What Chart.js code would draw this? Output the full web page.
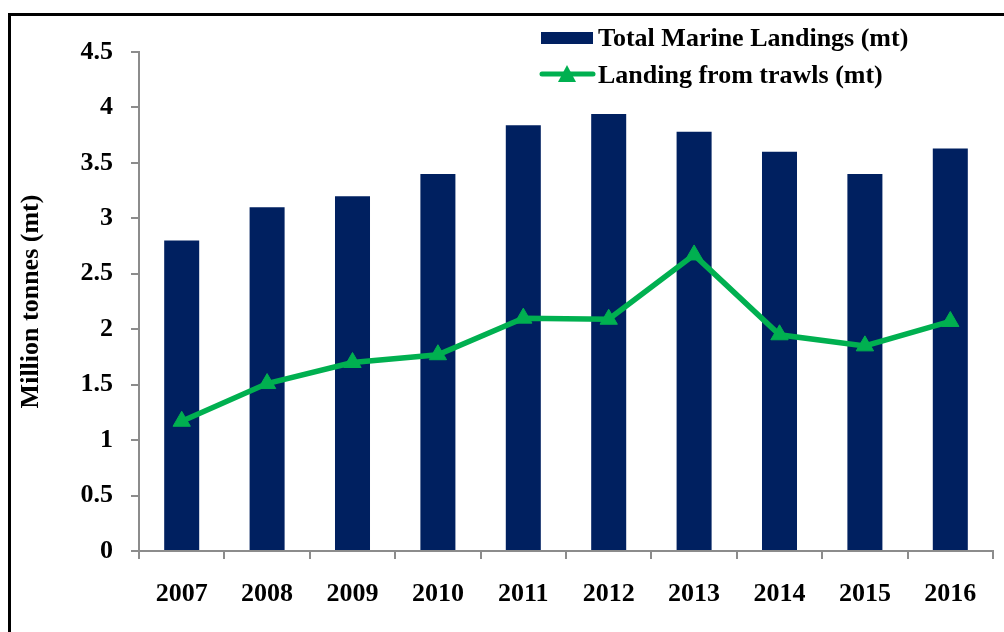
<!DOCTYPE html>
<html>
<head>
<meta charset="utf-8">
<script src="https://cdn.jsdelivr.net/npm/chart.js@4"></script>
<style>
  html, body { margin: 0; padding: 0; background: #fff; overflow: hidden; }
  #wrap { width: 1004px; height: 632px; position: relative; }
</style>
</head>
<body>
<div id="wrap"><canvas id="chart" width="1004" height="632"></canvas></div>
<script>
const years = ['2007', '2008', '2009', '2010', '2011', '2012', '2013', '2014', '2015', '2016'];
const totalLandings = [2.80, 3.10, 3.20, 3.40, 3.84, 3.94, 3.78, 3.60, 3.40, 3.63];
const trawlLandings = [1.17, 1.51, 1.70, 1.77, 2.10, 2.09, 2.67, 1.95, 1.85, 2.07];

const navy = '#002060';
const green = '#00B050';
const fontFamily = '"Liberation Serif", "Times New Roman", serif';

// outer frame + custom legend
const framePlugin = {
    id: 'frame',
    beforeDraw(chart) {
        const ctx = chart.ctx;
        ctx.save();
        ctx.fillStyle = '#fff';
        ctx.fillRect(0, 0, chart.width, chart.height);
        ctx.strokeStyle = '#000';
        ctx.lineWidth = 3;
        ctx.strokeRect(9.5, 14.5, chart.width + 20, chart.height + 20);
        ctx.restore();
    },
    afterDraw(chart) {
        const ctx = chart.ctx;
        const bars = chart.data.datasets.find(d => d.type === 'bar');
        const line = chart.data.datasets.find(d => d.type === 'line');
        ctx.save();
        ctx.font = 'bold 26px ' + fontFamily;
        ctx.textBaseline = 'middle';
        // bar entry
        ctx.fillStyle = navy;
        ctx.fillRect(541, 32, 52, 12);
        ctx.fillStyle = '#000';
        ctx.fillText(bars.label, 598, 39);
        // line entry
        ctx.strokeStyle = green;
        ctx.lineWidth = 5;
        ctx.lineCap = 'round';
        ctx.beginPath();
        ctx.moveTo(542, 74);
        ctx.lineTo(593, 74);
        ctx.stroke();
        ctx.fillStyle = green;
        ctx.beginPath();
        ctx.moveTo(567, 65);
        ctx.lineTo(576, 82);
        ctx.lineTo(558, 82);
        ctx.closePath();
        ctx.fill();
        ctx.fillStyle = '#000';
        ctx.fillText(line.label, 598, 76);
        ctx.restore();
    }
};

new Chart(document.getElementById('chart'), {
    type: 'bar',
    data: {
        labels: years,
        datasets: [
            {
                type: 'line',
                label: 'Landing from trawls (mt)',
                data: trawlLandings,
                borderColor: green,
                backgroundColor: green,
                borderWidth: 5.5,
                pointStyle: 'triangle',
                pointRadius: 10,
                pointBackgroundColor: green,
                pointBorderColor: green,
                pointBorderWidth: 1,
                tension: 0,
                order: 0
            },
            {
                type: 'bar',
                label: 'Total Marine Landings (mt)',
                data: totalLandings,
                backgroundColor: navy,
                borderWidth: 0,
                barPercentage: 0.41,
                categoryPercentage: 1,
                order: 1
            }
        ]
    },
    plugins: [framePlugin],
    options: {
        responsive: false,
        animation: false,
        layout: { padding: { left: 0, top: 52, right: 10, bottom: 0 } },
        plugins: {
            legend: { display: false },
            tooltip: { enabled: false }
        },
        scales: {
            x: {
                afterFit(scale) { scale.height = 81; },
                grid: {
                    display: true,
                    drawOnChartArea: false,
                    drawTicks: true,
                    tickLength: 8,
                    color: '#8c8c8c',
                    lineWidth: 2
                },
                border: { color: '#8c8c8c', width: 2 },
                ticks: {
                    color: '#000',
                    padding: 20,
                    font: { family: fontFamily, size: 26, weight: 'bold' },
                    maxRotation: 0
                }
            },
            y: {
                min: 0,
                max: 4.5,
                afterFit(scale) { scale.width = 139; },
                grid: {
                    display: true,
                    drawOnChartArea: false,
                    drawTicks: true,
                    tickLength: 8,
                    color: '#8c8c8c',
                    lineWidth: 2
                },
                border: { color: '#8c8c8c', width: 2 },
                ticks: {
                    stepSize: 0.5,
                    color: '#000',
                    padding: 18,
                    font: { family: fontFamily, size: 26, weight: 'bold' },
                    callback: v => String(v)
                },
                title: {
                    display: true,
                    text: 'Million tonnes (mt)',
                    color: '#000',
                    padding: { top: 16, bottom: 0 },
                    font: { family: fontFamily, size: 26, weight: 'bold' }
                }
            }
        }
    }
});
</script>
</body>
</html>
